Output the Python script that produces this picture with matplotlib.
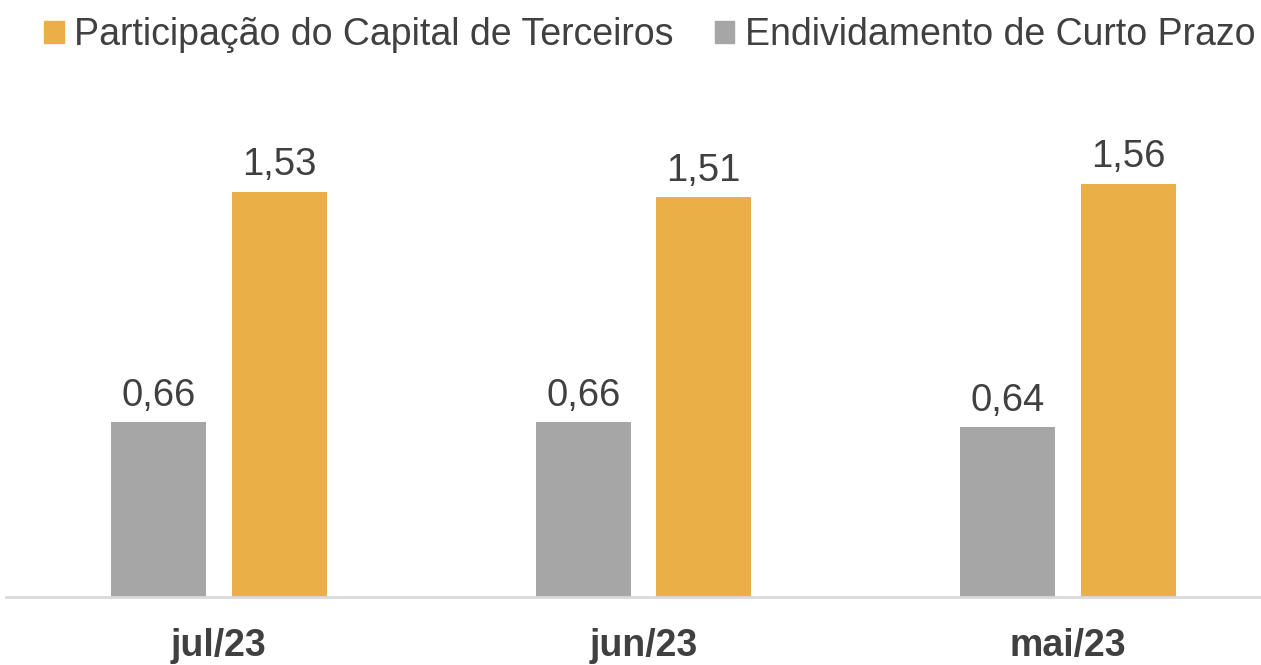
import matplotlib.pyplot as plt
from matplotlib.patches import Patch

plt.rcParams['font.family'] = ['Liberation Sans', 'DejaVu Sans']

# dados
categorias = ['jul/23', 'jun/23', 'mai/23']
endividamento_cp = [0.66, 0.66, 0.64]
capital_terceiros = [1.53, 1.51, 1.56]

cor_cinza = '#A6A6A6'
cor_laranja = '#EAAF47'
cor_texto = '#404040'

fig = plt.figure(figsize=(12.61, 6.65), dpi=100)
# eixo posicionado em pixels: base em y=597, largura total da figura
ax = fig.add_axes([0, (665 - 597) / 665, 1, (597 - 100) / 665])

largura = 0.224
desloc = 0.142
x = list(range(len(categorias)))

barras_cinza = ax.bar([i - desloc for i in x], endividamento_cp, width=largura,
                      color=cor_cinza, zorder=2)
barras_laranja = ax.bar([i + desloc for i in x], capital_terceiros, width=largura,
                        color=cor_laranja, zorder=2)

def rotular(barras):
    for b in barras:
        h = b.get_height()
        ax.annotate(f'{h:.2f}'.replace('.', ','),
                    (b.get_x() + b.get_width() / 2, h),
                    xytext=(0, 6), textcoords='offset points',
                    ha='center', va='bottom', fontsize=27.5, color=cor_texto)

rotular(barras_cinza)
rotular(barras_laranja)

ax.set_xlim(-219 / 424.5, (1261 - 219) / 424.5)
ax.set_ylim(0, (597 - 100) / 265)

ax.set_xticks(x)
ax.set_xticklabels(categorias, fontsize=27, fontweight='bold', color=cor_texto)
ax.tick_params(axis='x', length=0, pad=22)
ax.set_yticks([])

for lado in ['top', 'right', 'left']:
    ax.spines[lado].set_visible(False)
ax.spines['bottom'].set_color('#D9D9D9')
ax.spines['bottom'].set_linewidth(2)
ax.spines['bottom'].set_bounds(-213 / 424.5, (1261 - 219) / 424.5)

handles = [Patch(color=cor_laranja, label='Participação do Capital de Terceiros'),
           Patch(color=cor_cinza, label='Endividamento de Curto Prazo')]
leg = fig.legend(handles=handles, loc='upper center', bbox_to_anchor=(0.515, 1.0),
                 ncol=2, frameon=False, fontsize=27, handlelength=0.53,
                 handleheight=0.53, handletextpad=0.27, columnspacing=1.1,
                 borderaxespad=0.05)
for t in leg.get_texts():
    t.set_color(cor_texto)

fig.savefig('out.png', dpi=100)
